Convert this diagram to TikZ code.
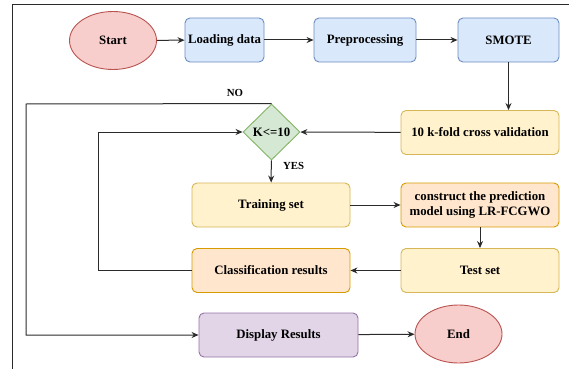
\documentclass[tikz,border=0pt]{standalone}
\usepackage{fontspec}
\setmainfont{Liberation Serif}
\usepackage{tikz}
\usetikzlibrary{shapes.geometric,arrows.meta}

\definecolor{redfill}{HTML}{F8CECC}
\definecolor{redline}{HTML}{B85450}
\definecolor{bluefill}{HTML}{DAE8FC}
\definecolor{blueline}{HTML}{6C8EBF}
\definecolor{yellowfill}{HTML}{FFF2CC}
\definecolor{yellowline}{HTML}{D6B656}
\definecolor{orangefill}{HTML}{FFE6CC}
\definecolor{orangeline}{HTML}{D79B00}
\definecolor{greenfill}{HTML}{D5E8D4}
\definecolor{greenline}{HTML}{82B366}
\definecolor{purplefill}{HTML}{E1D5E7}
\definecolor{purpleline}{HTML}{9673A6}
\definecolor{wire}{HTML}{2B2B2B}

\begin{document}
\begin{tikzpicture}[x=1pt, y=-1pt,
    txt/.style={font=\bfseries\fontsize{12.8}{15}\selectfont, align=center, inner sep=1pt},
    box/.style={txt, draw, rounded corners=5pt, line width=0.9pt, minimum height=44pt},
    oval/.style={txt, draw, ellipse, line width=0.9pt, minimum width=87pt, minimum height=58pt, fill=redfill, draw=redline},
    flow/.style={draw=wire, line width=1pt, -{Stealth[length=7pt,width=6pt]}},
    tag/.style={font=\bfseries\fontsize{10.8}{12}\selectfont}]
\useasboundingbox (0,0) rectangle (569,369);

% Frame
\draw[wire, line width=0.7pt] (12.5,369) -- (12.5,4.5) -- (569,4.5);

% Top row
\node[oval] (start) at (113,40.5) {Start};
\node[box, fill=bluefill, draw=blueline, minimum width=79pt] (load) at (224.5,40) {Loading data};
\node[box, fill=bluefill, draw=blueline, minimum width=102pt] (prep) at (365,40) {Preprocessing};
\node[box, fill=bluefill, draw=blueline, minimum width=101pt] (smote) at (508.5,40) {SMOTE};

% Loop part
\node[box, fill=yellowfill, draw=yellowline, minimum width=158pt] (kfold) at (480,132.5) {10 k-fold cross validation};
\node[txt, diamond, draw=greenline, fill=greenfill, line width=0.9pt, inner sep=0pt,
      minimum width=57pt, minimum height=56pt] (kcheck) at (271.5,132) {K<=10};
\node[box, fill=yellowfill, draw=yellowline, minimum width=158pt] (train) at (271,205) {Training set};
\node[box, fill=orangefill, draw=orangeline, minimum width=158pt] (model) at (480,205) {construct the prediction\\model using LR-FCGWO};
\node[box, fill=yellowfill, draw=yellowline, minimum width=158pt] (test) at (480,270.5) {Test set};
\node[box, fill=orangefill, draw=orangeline, minimum width=158pt] (classif) at (271,270.5) {Classification results};

% Bottom row
\node[box, fill=purplefill, draw=purpleline, minimum width=159pt] (display) at (278.5,335) {Display Results};
\node[oval] (stop) at (458.5,334) {End};

% Bends
\coordinate (noleft) at (26,104);
\coordinate (loopleft) at (98,270.5);

% Arrows
\draw[flow] (start) -- (load);
\draw[flow] (load) -- (prep);
\draw[flow] (prep) -- (smote);
\draw[flow] (smote.south) -- (smote.south |- kfold.north);
\draw[flow] (kfold) -- (kcheck);
\draw[flow] (kcheck) -- (train);
\draw[flow] (train) -- (model);
\draw[flow] (model) -- (test);
\draw[flow] (test) -- (classif);
\draw[flow] (classif.west) -- (loopleft) |- (kcheck.west);
\draw[flow] (kcheck.north) -- (noleft) |- (display.west);
\draw[flow] (display) -- (stop);

% Labels
\node[tag] (no) at (235,93) {NO};
\node[tag] (yes) at (293.5,165.5) {YES};
\end{tikzpicture}
\end{document}
